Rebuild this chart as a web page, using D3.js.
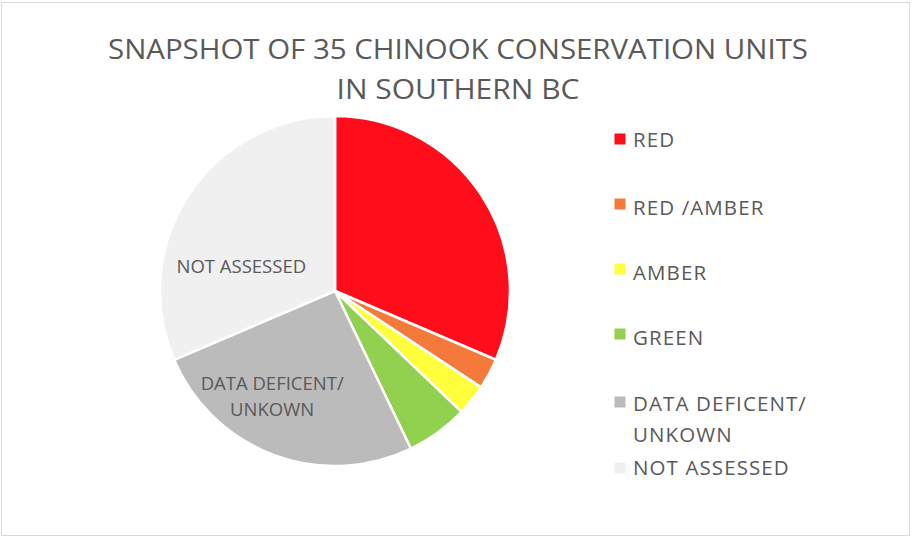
<!DOCTYPE html>
<html><head><meta charset="utf-8">
<script src="https://cdn.jsdelivr.net/npm/d3@7"></script>
<style>body{margin:0;background:#fff}svg{display:block}text{font-family:"Open Sans",sans-serif;fill:#595959}</style>
</head><body><svg id="c" width="912" height="538"></svg>
<script>
const categories = ["RED","RED /AMBER","AMBER","GREEN","DATA DEFICENT/\nUNKOWN","NOT ASSESSED"];
const values = [11,1,1,2,9,11];
const colors = ["#FF0D1A","#F47A3C","#FFFF3C","#92D050","#BBBBBB","#F0F0F0"];
const titleLines = ["SNAPSHOT OF 35 CHINOOK CONSERVATION UNITS","IN SOUTHERN BC"];

const svg = d3.select("#c");
svg.append("rect").attr("x",1.5).attr("y",2.5).attr("width",908).attr("height",533)
  .attr("fill","#fff").attr("stroke","#D9D9D9").attr("stroke-width",1);

const title = svg.append("g");
title.append("text").attr("x",458).attr("y",59).attr("text-anchor","middle")
  .attr("font-size",27).attr("textLength",700).attr("lengthAdjust","spacingAndGlyphs").text(titleLines[0]);
title.append("text").attr("x",458).attr("y",99).attr("text-anchor","middle")
  .attr("font-size",27).attr("textLength",243).attr("lengthAdjust","spacingAndGlyphs").text(titleLines[1]);

const cx = 335, cy = 291, r = 175;
const pie = d3.pie().sort(null).value(d=>d);
const arc = d3.arc().innerRadius(0).outerRadius(r);
const arcs = pie(values);
const g = svg.append("g").attr("transform",`translate(${cx},${cy})`);
g.selectAll("path").data(arcs).join("path")
  .attr("d",arc).attr("fill",(d,i)=>colors[i]).attr("stroke","#fff").attr("stroke-width",2.5);

// in-slice labels for the two large grey slices (label anchor: angle/radius within slice)
const labelPlace = {4:{a:211,rad:122}, 5:{a:285,rad:97}};
[4,5].forEach(i=>{
  const lines = categories[i].split("\n");
  const p = labelPlace[i];
  const ang = p.a*Math.PI/180;
  const x = p.rad*Math.sin(ang), y = -p.rad*Math.cos(ang);
  const t = g.append("text").attr("text-anchor","middle").attr("font-size",18.5)
    .attr("transform",`translate(${x},${y})`);
  lines.forEach((l,k)=>t.append("tspan").attr("x",0)
    .attr("y",(k-(lines.length-1)/2)*26+7).text(l));
});

// legend
const sqY = [139,204,269,334,402,468];
const baseY = [147,215,280,345,411,475];
const leg = svg.append("g");
categories.forEach((c,i)=>{
  leg.append("rect").attr("x",614.5).attr("y",sqY[i]-5.5).attr("width",11).attr("height",11).attr("fill",colors[i]);
  const t = leg.append("text").attr("x",633).attr("y",baseY[i]).attr("font-size",20.5).attr("letter-spacing",1.1);
  c.split("\n").forEach((l,k)=>t.append("tspan").attr("x",633).attr("dy",k?31:0).text(l));
});
</script></body></html>
